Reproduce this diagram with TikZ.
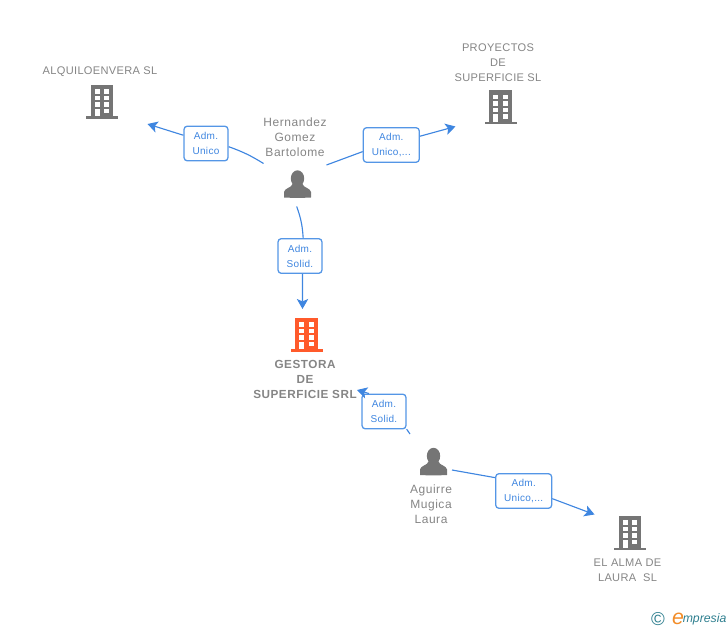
\documentclass[tikz,border=0pt]{standalone}
\usepackage{fontspec}
\setmainfont{Liberation Sans}
\newfontfamily\spacedfont[LetterSpace=3]{Liberation Sans}
\newfontfamily\widefont[LetterSpace=4.5]{Liberation Sans}
\usetikzlibrary{arrows.meta}
\definecolor{linkblue}{HTML}{3F86E0}
\definecolor{boxblue}{HTML}{5496E6}
\definecolor{icongray}{HTML}{757575}
\definecolor{labelgray}{HTML}{858585}
\definecolor{mainorange}{HTML}{FF5A2B}
\definecolor{logoteal}{HTML}{2F7F8F}
\definecolor{logoorange}{HTML}{F28C28}
\tikzset{
    admbox/.style={draw=boxblue,fill=white,line width=0.95pt,rounded corners=2.5pt,inner sep=0pt,
        minimum width=33pt,minimum height=26pt,align=center,text=linkblue,
        font=\spacedfont\fontsize{7.5}{11.25}\selectfont},
    admwide/.style={admbox,minimum width=42pt},
    namelabel/.style={align=center,text=labelgray,inner sep=0pt,
        font=\spacedfont\fontsize{8.3}{11.25}\selectfont},
    personlabel/.style={namelabel,font=\widefont\fontsize{9}{11.25}\selectfont},
    link/.style={draw=linkblue,line width=0.85pt},
    linkarrow/.style={link,-{Stealth[length=7.5pt,width=8.5pt,inset=1.8pt]}},
    pics/building/.style={code={
        % Corps et socle
        \fill[pic actions] (-11.3,-17) rectangle (11.3,15);
        \fill[pic actions] (-16,14.5) rectangle (16,17);
        % Fenetres
        \foreach \y in {-12.7,-6.3,0.3} {
            \fill[white] (-7.5,\y) rectangle (-2.5,\y+4.4);
            \fill[white] (2.3,\y) rectangle (7.3,\y+4.4);}
        \fill[white] (2.3,7) rectangle (7.3,11.4);
        \fill[white] (-7.5,7) rectangle (-2.5,14.5);
    }},
    pics/person/.style={code={
        \fill[icongray] (0,-5.5) ellipse (6.7 and 8.2);
        \fill[icongray] (-13.5,13.5) -- (-13.5,8) .. controls (-13,4) and (-6,4) .. (-5,0)
            -- (5,0) .. controls (6,4) and (13,4) .. (13.5,8) -- (13.5,13.5)
            .. controls (5,14) and (-5,14) .. (-13.5,13.5) -- cycle;
    }}
}
\begin{document}
\begin{tikzpicture}[x=0.75pt,y=-0.75pt]
    \useasboundingbox (0,0) rectangle (728,630);
    % Icones
    \pic[fill=icongray] (iconAlq) at (102,102) {building};
    \pic[fill=icongray] (iconProy) at (500.5,107.5) {building};
    \pic[fill=mainorange] (iconGest) at (306.5,335) {building};
    \pic[fill=icongray] (iconAlma) at (630,533) {building};
    \pic (iconHern) at (297.5,184) {person};
    \pic (iconAgui) at (433.5,461.5) {person};
    % Textes
    \node[namelabel] (alq) at (100,72) {ALQUILOENVERA SL};
    \node[namelabel] (proy) at (498,63) {PROYECTOS\\DE\\SUPERFICIE SL};
    \node[personlabel] (hern) at (295,137.5) {Hernandez\\Gomez\\Bartolome};
    \node[namelabel,font=\widefont\fontsize{8.8}{11.25}\selectfont\bfseries] (gest) at (305,379) {GESTORA\\DE\\SUPERFICIE SRL};
    \node[personlabel] (agui) at (431,504.5) {Aguirre\\Mugica\\Laura};
    \node[namelabel] (alma) at (627.5,570) {EL ALMA DE\\LAURA~ SL};
    % Boites
    \node[admbox] (admAlq) at (206,143.5) {Adm.\\Unico};
    \node[admwide] (admProy) at (391.3,145) {Adm.\\Unico,...};
    \node[admbox] (admGest) at (300,256) {Adm.\\Solid.};
    \node[admbox] (admAgui) at (384,411.5) {Adm.\\Solid.};
    \node[admwide] (admAlma) at (523.7,491) {Adm.\\Unico,...};
    % Extremites libres
    \coordinate (hernW) at (263.5,163.5);
    \coordinate (hernE) at (326.5,165);
    \coordinate (hernS) at (296.7,206.5);
    \coordinate (aguiN) at (410,434);
    \coordinate (aguiE) at (452,470);
    \coordinate (tipAlq) at (147.5,124);
    \coordinate (tipProy) at (455.5,126.5);
    \coordinate (tipGest) at (302.5,309);
    \coordinate (tipAgui) at (357,390);
    \coordinate (tipAlma) at (594.5,514.5);
    % Liens
    \draw[link] (hernW) to[bend right=6] (admAlq.352);
    \draw[linkarrow] (admAlq.160) -- (tipAlq);
    \draw[link] (hernE) -- (admProy.193);
    \draw[linkarrow] (admProy.17) -- (tipProy);
    \draw[link] (hernS) to[bend left=8] (admGest.80);
    \draw[linkarrow] (admGest.278) -- (tipGest);
    \draw[link] (aguiN) -- (admAgui.322);
    \draw[linkarrow] (admAgui.130) -- (tipAgui);
    \draw[link] (aguiE) -- (admAlma.155);
    \draw[linkarrow] (admAlma.345) -- (tipAlma);
    % Logo
    \node[text=logoteal,inner sep=0pt,font=\fontsize{14}{14}\selectfont] (logoC) at (658,619) {©};
    \node[text=logoorange,inner sep=0pt,font=\fontsize{16}{16}\selectfont\itshape] (logoE) at (678,618.5) {e};
    \node[text=logoteal,inner sep=0pt,anchor=west,font=\fontsize{9.2}{12}\selectfont\itshape] (logoT) at (682.5,619.5) {mpresia};
\end{tikzpicture}
\end{document}
